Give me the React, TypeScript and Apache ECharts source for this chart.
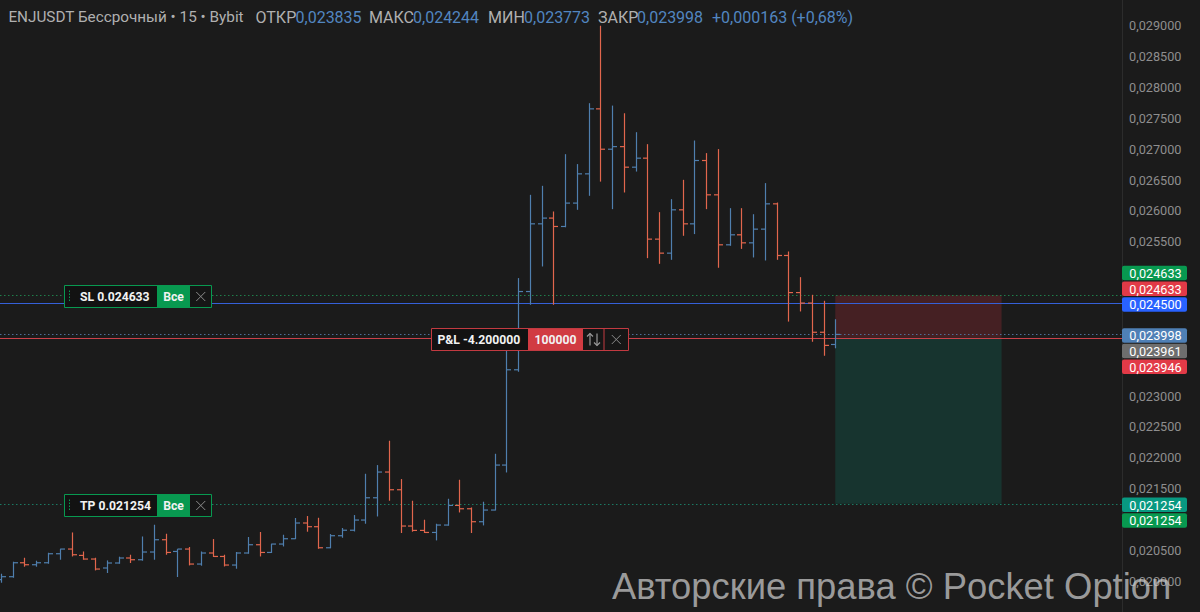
import { useEffect, useRef } from 'react';
import * as echarts from 'echarts';

const FONT = 'Roboto, "Noto Sans", "DejaVu Sans", sans-serif';

const TICKER = 'ENJUSDT Бессрочный • 15 • Bybit';
const FIELD_NAMES = ['ОТКР', 'МАКС', 'МИН', 'ЗАКР'];

const OPEN = [
  0.020023, 0.020072, 0.020298, 0.020266, 0.020298, 0.020444, 0.02052, 0.020417, 0.020358, 0.020213,
  0.020294, 0.020375, 0.020347, 0.020472, 0.020671, 0.020481, 0.02052, 0.020277, 0.020456, 0.0204,
  0.020261, 0.020456, 0.02059, 0.020465, 0.020601, 0.020687, 0.020942, 0.020882, 0.020541, 0.020736,
  0.020825, 0.02099, 0.021351, 0.021768, 0.021481, 0.020893, 0.020822, 0.020789, 0.020909, 0.021227,
  0.021173, 0.020963, 0.021152, 0.021881, 0.023425, 0.024693, 0.02579, 0.025883, 0.025747, 0.026126,
  0.0266, 0.027653, 0.026999, 0.027041, 0.026708, 0.026854, 0.025542, 0.025315, 0.026017, 0.02579,
  0.026816, 0.02626, 0.02545, 0.025612, 0.025482, 0.025704, 0.026114, 0.025277, 0.024676, 0.024506,
  0.024033, 0.023835,
];
const HIGH = [
  0.02012, 0.020315, 0.020379, 0.020331, 0.02046, 0.020525, 0.020789, 0.020481, 0.020379, 0.020336,
  0.020396, 0.020428, 0.020724, 0.020914, 0.020768, 0.02052, 0.020553, 0.020481, 0.020682, 0.020428,
  0.020472, 0.020715, 0.020796, 0.020606, 0.020752, 0.021023, 0.021055, 0.021027, 0.020763, 0.020861,
  0.021071, 0.02174, 0.021881, 0.022275, 0.021654, 0.021303, 0.020995, 0.02093, 0.021335, 0.021643,
  0.021194, 0.021287, 0.022064, 0.023911, 0.024911, 0.02626, 0.026406, 0.02599, 0.026919, 0.026758,
  0.027745, 0.029, 0.027706, 0.027582, 0.027275, 0.027081, 0.025979, 0.02619, 0.026503, 0.02714,
  0.026936, 0.027001, 0.026044, 0.026044, 0.025946, 0.02645, 0.026135, 0.025342, 0.024926, 0.02464,
  0.024543, 0.024244,
];
const LOW = [
  0.019974, 0.020055, 0.020234, 0.020234, 0.020282, 0.020347, 0.0204, 0.020347, 0.020174, 0.020132,
  0.020282, 0.020294, 0.020331, 0.020347, 0.020428, 0.020067, 0.020255, 0.02025, 0.020391, 0.020238,
  0.020201, 0.020444, 0.0204, 0.020456, 0.020562, 0.020682, 0.020801, 0.020525, 0.020533, 0.020703,
  0.020805, 0.02093, 0.021048, 0.021303, 0.02078, 0.020801, 0.02078, 0.02066, 0.020898, 0.021113,
  0.02078, 0.020903, 0.021146, 0.021761, 0.023393, 0.024478, 0.025099, 0.024478, 0.025734, 0.026017,
  0.026244, 0.026474, 0.026028, 0.026298, 0.026637, 0.025234, 0.025142, 0.025207, 0.025596, 0.025624,
  0.026028, 0.025078, 0.025434, 0.025384, 0.025245, 0.025196, 0.025207, 0.024206, 0.02437, 0.023879,
  0.023652, 0.023773,
];
const CLOSE = [
  0.020072, 0.020298, 0.020266, 0.020298, 0.020444, 0.02052, 0.020428, 0.020358, 0.020196, 0.020294,
  0.020375, 0.020347, 0.020472, 0.020671, 0.020465, 0.02052, 0.020277, 0.020456, 0.0204, 0.020261,
  0.020456, 0.02059, 0.020465, 0.020601, 0.020687, 0.020942, 0.020882, 0.020541, 0.020736, 0.020825,
  0.02099, 0.021351, 0.021768, 0.021481, 0.020893, 0.020822, 0.020789, 0.020909, 0.021227, 0.021173,
  0.020963, 0.021152, 0.021881, 0.023425, 0.024693, 0.02579, 0.025883, 0.025747, 0.026126, 0.0266,
  0.027653, 0.026999, 0.027041, 0.026708, 0.026854, 0.025542, 0.025315, 0.026017, 0.02579, 0.026816,
  0.02626, 0.02545, 0.025612, 0.025482, 0.025704, 0.026114, 0.025277, 0.024676, 0.024506, 0.024033,
  0.02382, 0.023998,
];

const SL_PRICE = 0.024633;
const TP_PRICE = 0.021254;
const ALERT_PRICE = 0.0245;
const LAST_PRICE = 0.023998;
const AVG_PRICE = 0.023961;
const ENTRY_PRICE = 0.023946;
const PNL = -4.2;
const QTY = 100000;
const BTN_ALL = 'Все';
const WATERMARK = 'Авторские права © Pocket Option';

const Y_MIN = 0.0195;
const Y_MAX = 0.029417;
const Y_STEP = 0.0005;
const HIDDEN_TICKS = [0.025, 0.024, 0.0235, 0.021];
const X_MIN = -0.085;
const X_MAX = 95.4;
const BOX_START = 71;
const BOX_END = 85.15;

const BG = '#1b1b1b';
const UP = '#4f7fae';
const DOWN = '#e2664d';
const GREEN = '#089950';
const TEAL = '#089981';
const RED = '#e23a47';
const BLUE = '#2962ff';
const STEEL = '#4f80b6';
const GRAY_TAG = '#6e6e6e';
const AXIS_TEXT = '#8e8e8e';
const HEAD_GRAY = '#b0b0b0';
const HEAD_BLUE = '#5286c0';

const fmt = (v: number) => v.toFixed(6).replace('.', ',');

export default function App() {
  const ref = useRef<HTMLDivElement>(null);
  useEffect(() => {
    const chart = echarts.init(ref.current!, null, { renderer: 'svg' });
    const data = OPEN.map((o, i) => [i, o, CLOSE[i], LOW[i], HIGH[i]]);
    chart.setOption({
      animation: false,
      backgroundColor: BG,
      textStyle: { fontFamily: FONT },
      grid: { left: 0, right: 78, top: 0, bottom: 0 },
      xAxis: {
        type: 'value',
        min: X_MIN,
        max: X_MAX,
        show: false,
        axisLine: { show: false },
        splitLine: { show: false },
        axisTick: { show: false },
        axisLabel: { show: false },
      },
      yAxis: {
        type: 'value',
        position: 'right',
        min: Y_MIN,
        max: Y_MAX,
        interval: Y_STEP,
        axisLine: { show: true, onZero: false, lineStyle: { color: '#2c2c2c', width: 1 } },
        axisTick: { show: false },
        splitLine: { show: false },
        axisLabel: {
          color: AXIS_TEXT,
          fontSize: 12.7,
          fontFamily: FONT,
          margin: 7,
          showMinLabel: true,
          showMaxLabel: true,
          formatter: (v: number) => {
            if (v < Y_MIN + 1e-7 || v > 0.0292) return '';
            if (HIDDEN_TICKS.some((h) => Math.abs(h - v) < 1e-9)) return '';
            return fmt(v);
          },
        },
      },
      series: [
        {
          type: 'custom',
          data: [[BOX_START, SL_PRICE, ENTRY_PRICE, TP_PRICE, BOX_END]],
          encode: { x: [0, 4], y: [1, 2, 3] },
          silent: true,
          z: 1,
          renderItem: (params: any, api: any) => {
            const a = api.coord([api.value(0), api.value(1)]);
            const m = api.coord([api.value(4), api.value(2)]);
            const b = api.coord([api.value(4), api.value(3)]);
            return {
              type: 'group',
              children: [
                { type: 'rect', shape: { x: a[0], y: a[1], width: m[0] - a[0], height: m[1] - a[1] }, style: { fill: 'rgba(242,54,69,0.2)' } },
                { type: 'rect', shape: { x: a[0], y: m[1], width: b[0] - a[0], height: b[1] - m[1] }, style: { fill: 'rgba(8,153,129,0.2)' } },
              ],
            };
          },
        },
        {
          type: 'custom',
          data,
          encode: { x: 0, y: [1, 2, 3, 4] },
          z: 5,
          renderItem: (params: any, api: any) => {
            const i = api.value(0);
            const o = api.value(1);
            const c = api.value(2);
            const pO = api.coord([i, o]);
            const pC = api.coord([i, c]);
            const pL = api.coord([i, api.value(3)]);
            const pH = api.coord([i, api.value(4)]);
            const color = c >= o ? UP : DOWN;
            const x = Math.round(pH[0]) + 0.5;
            const t = 4.5;
            const st = { stroke: color, lineWidth: 1.2 };
            return {
              type: 'group',
              children: [
                { type: 'line', shape: { x1: x, y1: pH[1], x2: x, y2: pL[1] }, style: st },
                { type: 'line', shape: { x1: x - t, y1: pO[1], x2: x, y2: pO[1] }, style: st },
                { type: 'line', shape: { x1: x, y1: pC[1], x2: x + t, y2: pC[1] }, style: st },
              ],
            };
          },
        },
      ],
    });

    const yPix = (v: number) => chart.convertToPixel({ yAxisIndex: 0 }, v) as number;
    const axisX = chart.convertToPixel({ xAxisIndex: 0 }, X_MAX) as number;

    const line = (x1: number, y1: number, x2: number, y2: number, stroke: string, w = 1, dash?: number[]) => ({
      type: 'line',
      shape: { x1, y1, x2, y2 },
      style: { stroke, lineWidth: w, lineDash: dash },
    });

    const withZ = (els: any[], z: number) => els.map((e) => ({ ...e, z }));

    const hLines = [
      { v: SL_PRICE, color: '#1f7f4b', dash: [1.5, 2.5] },
      { v: ALERT_PRICE, color: '#3560d8' },
      { v: LAST_PRICE, color: '#4d6f96', dash: [1.5, 2.5] },
      { v: ENTRY_PRICE, color: '#c9414a' },
      { v: TP_PRICE, color: '#1b7a63', dash: [1.5, 2.5] },
    ].map((h) => {
      const y = Math.round(yPix(h.v)) + 0.5;
      return { ...line(0, y, axisX, y, h.color, 1, h.dash), z: 2 };
    });

    type Sec = { w: number; fill: string; label?: string; center?: boolean; pad?: number; icon?: string; sep?: boolean };
    const widget = (x0: number, yc: number, h: number, border: string, secs: Sec[]) => {
      const bg: any[] = [];
      const fg: any[] = [];
      const top = Math.round(yc - h / 2) + 0.5;
      const mid = top + h / 2;
      let x = x0;
      secs.forEach((s) => {
        bg.push({ type: 'rect', shape: { x, y: top, width: s.w, height: h }, style: { fill: s.fill } });
        if (s.label) {
          fg.push({
            type: 'text',
            style: {
              text: s.label,
              x: s.center ? x + s.w / 2 : x + (s.pad || 0),
              y: mid + 0.5,
              align: s.center ? 'center' : 'left',
              verticalAlign: 'middle',
              fill: '#f2f2f2',
              fontSize: 12.2,
              fontWeight: 'bold',
              fontFamily: FONT,
            },
          });
        }
        if (s.icon === 'handle') fg.push(line(x + 5, mid - 6, x + 5, mid + 6, border, 1, [1.5, 1.5]));
        if (s.icon === 'close') {
          const cx = x + s.w / 2;
          fg.push(line(cx - 4.5, mid - 4.5, cx + 4.5, mid + 4.5, '#8a8a8a', 1));
          fg.push(line(cx - 4.5, mid + 4.5, cx + 4.5, mid - 4.5, '#8a8a8a', 1));
        }
        if (s.icon === 'arrows') {
          const a = x + s.w / 2 - 3.5;
          const b = x + s.w / 2 + 3.5;
          fg.push(line(a, mid + 6, a, mid - 6, '#9a9a9a', 1.2));
          fg.push({ type: 'polyline', shape: { points: [[a - 3, mid - 3], [a, mid - 6], [a + 3, mid - 3]] }, style: { stroke: '#9a9a9a', lineWidth: 1.2, fill: 'none' } });
          fg.push(line(b, mid - 6, b, mid + 6, '#9a9a9a', 1.2));
          fg.push({ type: 'polyline', shape: { points: [[b - 3, mid + 3], [b, mid + 6], [b + 3, mid + 3]] }, style: { stroke: '#9a9a9a', lineWidth: 1.2, fill: 'none' } });
        }
        if (s.sep) fg.push(line(x, top, x, top + h, border, 1));
        x += s.w;
      });
      fg.push({ type: 'rect', shape: { x: x0, y: top, width: x - x0, height: h }, style: { fill: 'none', stroke: border, lineWidth: 1 } });
      return [...withZ(bg, 100), ...withZ(fg, 101)];
    };

    const DARK = '#121212';
    const slW = widget(64.5, yPix(SL_PRICE) + 1, 22, GREEN, [
      { w: 92.5, fill: DARK, label: 'SL ' + SL_PRICE.toFixed(6), pad: 15.5, icon: 'handle' },
      { w: 33, fill: GREEN, label: BTN_ALL, center: true },
      { w: 21.5, fill: '#161616', icon: 'close' },
    ]);
    const tpW = widget(64.5, yPix(TP_PRICE) + 1, 22, GREEN, [
      { w: 92.5, fill: DARK, label: 'TP ' + TP_PRICE.toFixed(6), pad: 15.5, icon: 'handle' },
      { w: 33, fill: GREEN, label: BTN_ALL, center: true },
      { w: 21.5, fill: '#161616', icon: 'close' },
    ]);
    const pnlW = widget(431.5, yPix(ENTRY_PRICE) + 1, 22, '#c23a41', [
      { w: 96.5, fill: DARK, label: 'P&L ' + PNL.toFixed(6), pad: 6 },
      { w: 55, fill: '#d13b42', label: String(QTY), center: true },
      { w: 21, fill: '#161616', icon: 'arrows' },
      { w: 24.5, fill: '#161616', icon: 'close', sep: true },
    ]);

    const TAG_H = 14.5;
    const TAG_STEP = 15.7;
    const tags: any[] = [];
    [
      { v: SL_PRICE, color: GREEN, anchor: ALERT_PRICE, slot: -2 },
      { v: SL_PRICE, color: RED, anchor: ALERT_PRICE, slot: -1 },
      { v: ALERT_PRICE, color: BLUE, anchor: ALERT_PRICE, slot: 0 },
      { v: LAST_PRICE, color: STEEL, anchor: LAST_PRICE, slot: 0 },
      { v: AVG_PRICE, color: GRAY_TAG, anchor: LAST_PRICE, slot: 1 },
      { v: ENTRY_PRICE, color: RED, anchor: LAST_PRICE, slot: 2 },
      { v: TP_PRICE, color: TEAL, anchor: TP_PRICE, slot: 0 },
      { v: TP_PRICE, color: GREEN, anchor: TP_PRICE, slot: 1 },
    ].forEach((t) => {
      const yc = yPix(t.anchor) + 1 + t.slot * TAG_STEP;
      tags.push({ type: 'rect', z: 110, shape: { x: axisX, y: yc - TAG_H / 2, width: 65, height: TAG_H, r: 2 }, style: { fill: t.color } });
      tags.push({
        type: 'text',
        z: 111,
        style: { text: fmt(t.v), x: axisX + 7.3, y: yc + 0.5, verticalAlign: 'middle', fill: '#ffffff', fontSize: 12.7, fontFamily: FONT },
      });
    });

    const last = OPEN.length - 1;
    const chg = CLOSE[last] - OPEN[last];
    const pct = (chg / OPEN[last]) * 100;
    const headVals = [OPEN[last], HIGH[last], LOW[last], CLOSE[last]];
    const headPos = [[255.5, 295.5], [369, 413], [488, 524], [598, 637]];
    const head: any[] = [{ text: TICKER, x: 8.4, fill: HEAD_GRAY, size: 15.3 }];
    FIELD_NAMES.forEach((n, k) => {
      head.push({ text: n, x: headPos[k][0], fill: HEAD_GRAY, size: 16 });
      head.push({ text: fmt(headVals[k]), x: headPos[k][1], fill: HEAD_BLUE, size: 16 });
    });
    head.push({
      text: (chg >= 0 ? '+' : '') + fmt(chg) + ' (' + (pct >= 0 ? '+' : '') + pct.toFixed(2).replace('.', ',') + '%)',
      x: 712,
      fill: HEAD_BLUE,
      size: 16,
    });

    chart.setOption({
      graphic: [
        ...hLines,
        ...head.map((h) => ({
          type: 'text',
          z: 120,
          style: { text: h.text, x: h.x, y: 17, verticalAlign: 'middle', fill: h.fill, fontSize: h.size, fontFamily: FONT },
        })),
        ...slW,
        ...tpW,
        ...pnlW,
        ...tags,
        {
          type: 'text',
          z: 130,
          style: {
            text: WATERMARK,
            x: 612,
            y: 586,
            verticalAlign: 'middle',
            fill: 'rgba(205,205,205,0.72)',
            fontSize: 36.4,
            fontFamily: '"Liberation Sans", Arial, sans-serif',
          },
        },
      ],
    });

    return () => chart.dispose();
  }, []);

  return <div ref={ref} style={{ position: 'fixed', left: 0, top: 0, width: 1200, height: 612 }} />;
}
